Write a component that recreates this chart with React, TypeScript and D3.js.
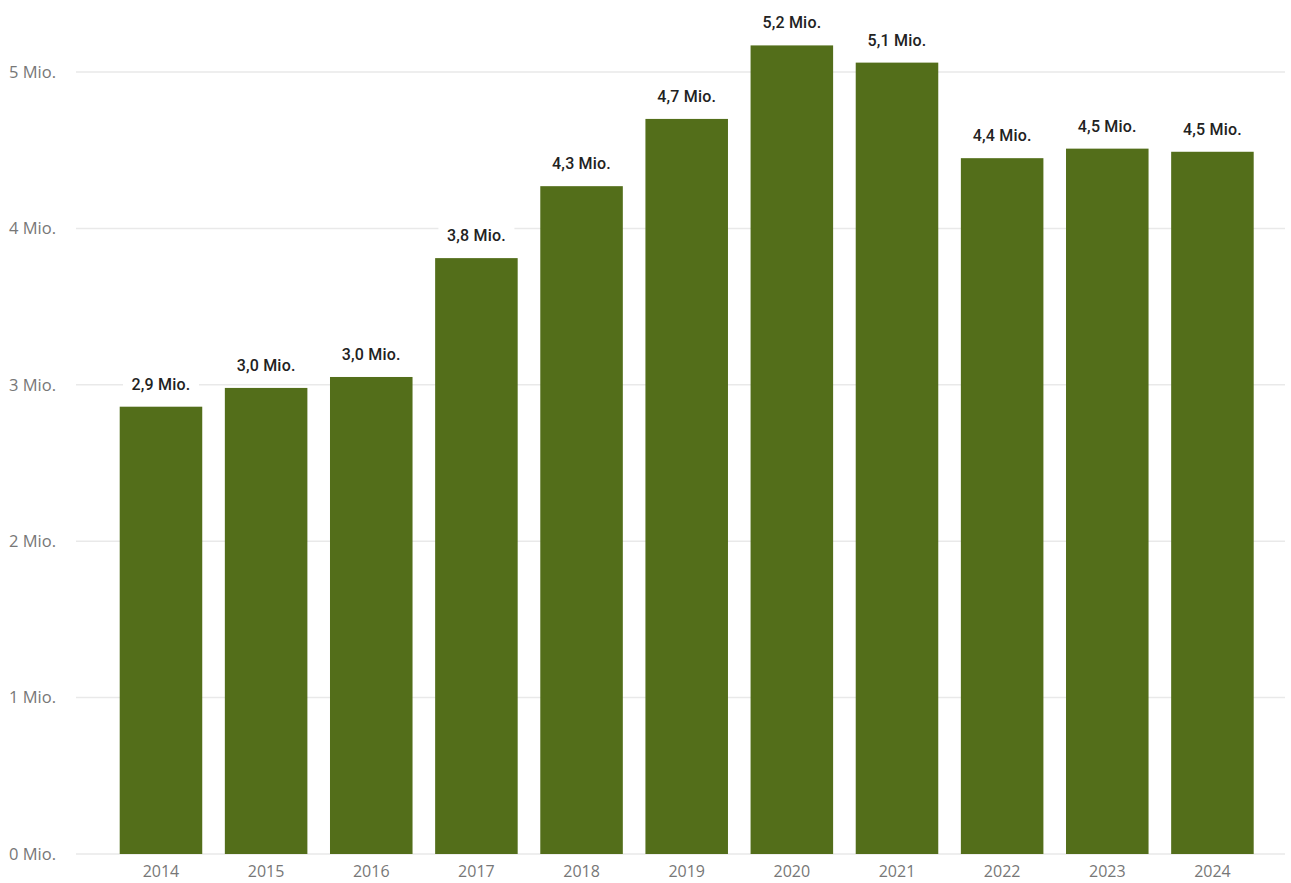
import React from "react";
import * as d3 from "d3";

const years = ["2014","2015","2016","2017","2018","2019","2020","2021","2022","2023","2024"];
const values = [2.86, 2.98, 3.05, 3.81, 4.27, 4.70, 5.17, 5.06, 4.449, 4.51, 4.49];
const yTicks = [0, 1, 2, 3, 4, 5];

const W = 1291, H = 883;
const fmt = (v: number) => v.toFixed(1).replace(".", ",") + " Mio.";

export default function App() {
  const x = d3.scaleBand<string>().domain(years).range([108.4, 1265]).paddingInner(0.215).paddingOuter(0.1075);
  const y = d3.scaleLinear().domain([0, 5]).range([854, 72]);
  return (
    <svg width={W} height={H} style={{ position: "absolute", left: 0, top: 0, background: "#fff" }}>
      {yTicks.map(t => (
        <g key={t}>
          <line x1={76} x2={1285} y1={y(t)} y2={y(t)} stroke="#e9e9e9" strokeWidth={1.5} />
          <text x={9} y={y(t)} dy="0.35em" fontFamily="'Open Sans', sans-serif" fontSize={16.5} fill="#777">{t} Mio.</text>
        </g>
      ))}
      {years.map((yr, i) => (
        <g key={yr}>
          <rect x={x(yr)} y={y(values[i])} width={x.bandwidth()} height={y(0) - y(values[i])} fill="#536e1a" />
          <rect x={x(yr)! + x.bandwidth() / 2 - 38} y={y(values[i]) - 33} width={76} height={21} fill="#fff" />
          <text x={x(yr)! + x.bandwidth() / 2} y={y(values[i]) - 17} textAnchor="middle" fontFamily="Roboto, sans-serif" fontWeight={500} fontSize={16} fill="#222" letterSpacing={0.2}>{fmt(values[i])}</text>
          <text x={x(yr)! + x.bandwidth() / 2} y={877} textAnchor="middle" fontFamily="'Open Sans', sans-serif" fontSize={16} fill="#777">{yr}</text>
        </g>
      ))}
    </svg>
  );
}
